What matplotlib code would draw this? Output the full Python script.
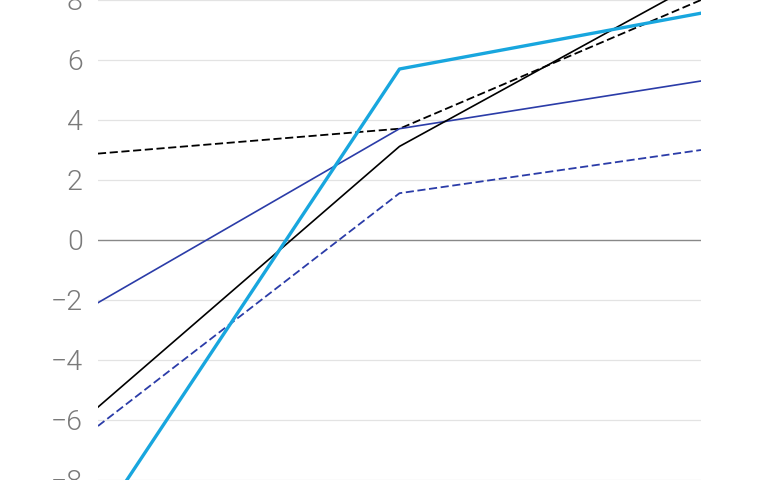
import matplotlib
matplotlib.use("Agg")
import matplotlib.pyplot as plt

# --- DATOS ---
x_pos = [0, 1, 2]
y_ticks = [-8, -6, -4, -2, 0, 2, 4, 6, 8]

serie_celeste = [-9.45, 5.70, 7.56]
serie_negra = [-5.57, 3.12, 8.63]
serie_negra_disc = [2.88, 3.71, 8.0]
serie_azul = [-2.09, 3.71, 5.30]
serie_azul_disc = [-6.2, 1.56, 3.0]

# --- FIGURA ---
fig = plt.figure(figsize=(7.67, 4.80), dpi=100)
ax = fig.add_axes([98 / 767, 0, 603 / 767, 1])

for t in y_ticks:
    if t == 0:
        ax.axhline(t, color="#888888", linewidth=1.0, zorder=1)
    else:
        ax.axhline(t, color="#e3e3e3", linewidth=0.9, zorder=1)

ax.plot(x_pos, serie_negra_disc, color="black", linewidth=1.3,
        dashes=(4.5, 2), zorder=3)
ax.plot(x_pos, serie_azul_disc, color="#2b3ca8", linewidth=1.3,
        dashes=(4.5, 2), zorder=3)
ax.plot(x_pos, serie_azul, color="#2b3ca8", linewidth=1.2, zorder=3)
ax.plot(x_pos, serie_negra, color="black", linewidth=1.2, zorder=3)
ax.plot(x_pos, serie_celeste, color="#18a6de", linewidth=2.4, zorder=4)

ax.set_xlim(0, 2)
ax.set_ylim(-8, 7.92)
ax.set_xticks([])
ax.set_yticks(y_ticks)
ax.set_yticklabels([str(t).replace("-", "\u2212") for t in y_ticks],
                   fontsize=20.5, color="#7a7a7a", fontfamily="Roboto",
                   fontweight=300)
ax.tick_params(axis="y", length=0, pad=11)
for s in ax.spines.values():
    s.set_visible(False)

fig.savefig("out.png", dpi=100)
